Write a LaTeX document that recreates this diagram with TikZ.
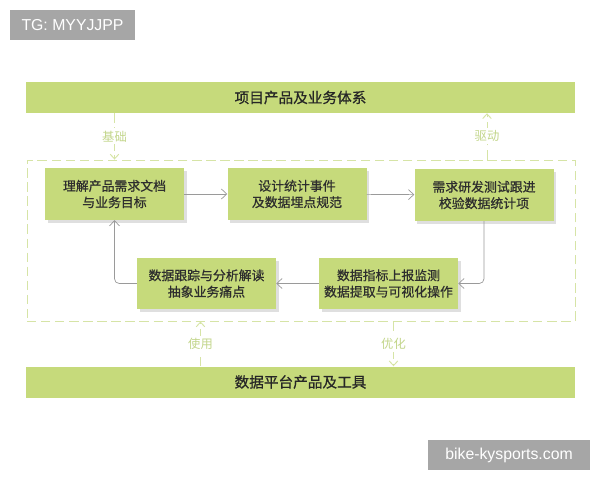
\documentclass[tikz,border=0pt]{standalone}
\usepackage{fontspec}
\setmainfont{Noto Sans CJK SC}
\newfontfamily\heavyfont[FakeBold=0.7]{Noto Sans CJK SC}
\newfontfamily\markfont{Liberation Sans}
\usetikzlibrary{arrows.meta,shadows}

\definecolor{leaf}{HTML}{C6DA7B}
\definecolor{leafline}{HTML}{D6E4A6}
\definecolor{leaftext}{HTML}{C3D68B}
\definecolor{linkgray}{HTML}{9A9A9A}
\definecolor{inkgray}{HTML}{2E2E2E}
\definecolor{markgray}{HTML}{A6A6A6}

\tikzset{
  stepbox/.style={fill=leaf, text=inkgray, align=center, font=\heavyfont\fontsize{11}{14}\selectfont,
    minimum width=4.17cm, minimum height=1.55cm, inner sep=0pt,
    drop shadow={shadow xshift=2.5pt, shadow yshift=-2.5pt, opacity=0.25}},
  barbox/.style={fill=leaf, text=black!85, font=\heavyfont\fontsize{12.5}{15}\selectfont,
    minimum width=16.47cm, minimum height=0.93cm, inner sep=0pt},
  flow/.style={draw=linkgray, line width=0.6pt, rounded corners=4pt,
    -{Straight Barb[length=1.6mm, width=3mm]}},
  link/.style={draw=leafline, line width=0.8pt, dash pattern=on 8pt off 4pt,
    -{Straight Barb[length=1.4mm, width=2.6mm]}},
  linktext/.style={fill=white, text=leaftext, font=\fontsize{10.5}{12}\selectfont, inner sep=2pt},
  markbox/.style={fill=markgray, text=white, font=\markfont\fontsize{13.5}{16}\selectfont,
    inner sep=0pt}
}

\begin{document}
\begin{tikzpicture}[x=0.03cm, y=-0.03cm]
  \useasboundingbox (0,0) rectangle (600,480);

  % 水印
  \node[markbox, minimum width=3.75cm, minimum height=0.9cm] (tg) at (72.5,25) {TG: MYYJJPP};
  \node[markbox, minimum width=4.86cm, minimum height=0.9cm] (site) at (509,455) {bike-kysports.com};

  % 上下两条
  \node[barbox] (top) at (300.5,97.5) {项目产品及业务体系};
  \node[barbox] (base) at (300.5,382) {数据平台产品及工具};

  % 虚线框
  \node[draw=leafline, line width=0.8pt, dash pattern=on 8pt off 4pt,
        minimum width=16.44cm, minimum height=4.83cm] (loopbox) at (301,240.5) {};

  % 五个环节
  \node[stepbox] (need) at (114.5,194) {理解产品需求文档\\与业务目标};
  \node[stepbox] (event) at (297,194) {设计统计事件\\及数据埋点规范};
  \node[stepbox] (check) at (484,195) {需求研发测试跟进\\校验数据统计项};
  \node[stepbox] (watch) at (388.5,283.5) {数据指标上报监测\\数据提取与可视化操作};
  \node[stepbox] (read) at (206.5,283.5) {数据跟踪与分析解读\\抽象业务痛点};

  % 循环
  \draw[flow] (need) -- (event);
  \draw[flow] (event) -- (check);
  \draw[flow] (check.south) |- (watch.east);
  \draw[flow] (watch) -- (read);
  \draw[flow] (read.west) -| (need.south);

  % 与上下两条的关系
  \draw[link] (top.south -| need) -- node[linktext] {基础} (loopbox.north -| need);
  \draw[link] ([xshift=0.09cm]loopbox.north -| check) -- node[linktext] {驱动} ([xshift=0.09cm]top.south -| check);
  \draw[link] ([xshift=-0.18cm]base.north -| read) -- node[linktext] {使用} ([xshift=-0.18cm]loopbox.south -| read);
  \draw[link] ([xshift=0.15cm]loopbox.south -| watch) -- node[linktext] {优化} ([xshift=0.15cm]base.north -| watch);
\end{tikzpicture}
\end{document}
